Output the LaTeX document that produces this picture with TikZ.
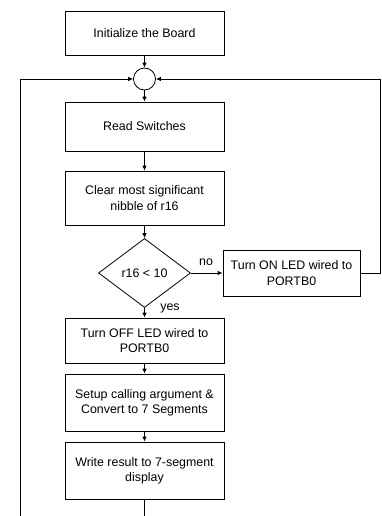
\documentclass[tikz,border=0pt]{standalone}
\usepackage{fontspec}
\setmainfont{Liberation Sans}
\usetikzlibrary{arrows.meta,shapes.geometric}
\begin{document}
\begin{tikzpicture}[x=1pt,y=1pt,
  every node/.style={font=\fontsize{12.4}{15.2}\selectfont},
  box/.style={draw,line width=0.8pt,rectangle,align=center,inner sep=0pt,minimum width=159pt},
  dec/.style={draw,line width=0.8pt,diamond,inner sep=0pt,minimum width=92pt,minimum height=69pt,align=center},
  junc/.style={draw,line width=0.8pt,circle,minimum size=22pt,inner sep=0pt},
  conn/.style={line width=0.8pt,-{Latex[length=5pt,width=4.5pt]}},
  plain/.style={line width=0.8pt},
  lbl/.style={inner sep=0pt}]
\useasboundingbox (0,0) rectangle (381,-516);
\node[box,minimum height=44pt] (init) at (144.5,-33) {Initialize the Board};
\node[junc] (circ) at (144.5,-79) {};
\node[box,minimum height=49pt] (read) at (144.5,-126.5) {Read Switches};
\node[box,minimum height=54pt] (clear) at (144.5,-198) {Clear most significant\\nibble of r16};
\node[dec] (dia) at (144.5,-273) {r16 {\textless} 10};
\node[box,minimum width=137pt,minimum height=46pt] (on) at (291.5,-273) {Turn ON LED wired to\\PORTB0};
\node[box,minimum height=45pt] (off) at (144.5,-340.5) {Turn OFF LED wired to\\PORTB0};
\node[box,minimum height=57pt] (setup) at (144.5,-402.5) {Setup calling argument \&\\Convert to 7 Segments};
\node[box,minimum height=57pt] (write) at (144.5,-470.5) {Write result to 7-segment\\display};
\node[lbl] (nolbl) at (206,-262) {no};
\node[lbl] (yeslbl) at (170,-308) {yes};
\coordinate (wbot) at (144.5,-516);
\coordinate (lbot) at (20,-516);
\coordinate (ltop) at (20,-79);
\coordinate (rmid) at (380.5,-273);
\coordinate (rtop) at (380.5,-79);
\draw[conn] (init) -- (circ);
\draw[conn] (circ) -- (read);
\draw[conn] (read) -- (clear);
\draw[conn] (clear) -- (dia);
\draw[conn] (dia.east) -- (on.west);
\draw[conn] (dia.south) -- (off.north);
\draw[conn] (off) -- (setup);
\draw[conn] (setup) -- (write);
\draw[plain] (write.south) -- (wbot);
\draw[conn] (lbot) -- (ltop) -- (circ.west);
\draw[conn] (on.east) -- (rmid) -- (rtop) -- (circ.east);
\end{tikzpicture}
\end{document}
